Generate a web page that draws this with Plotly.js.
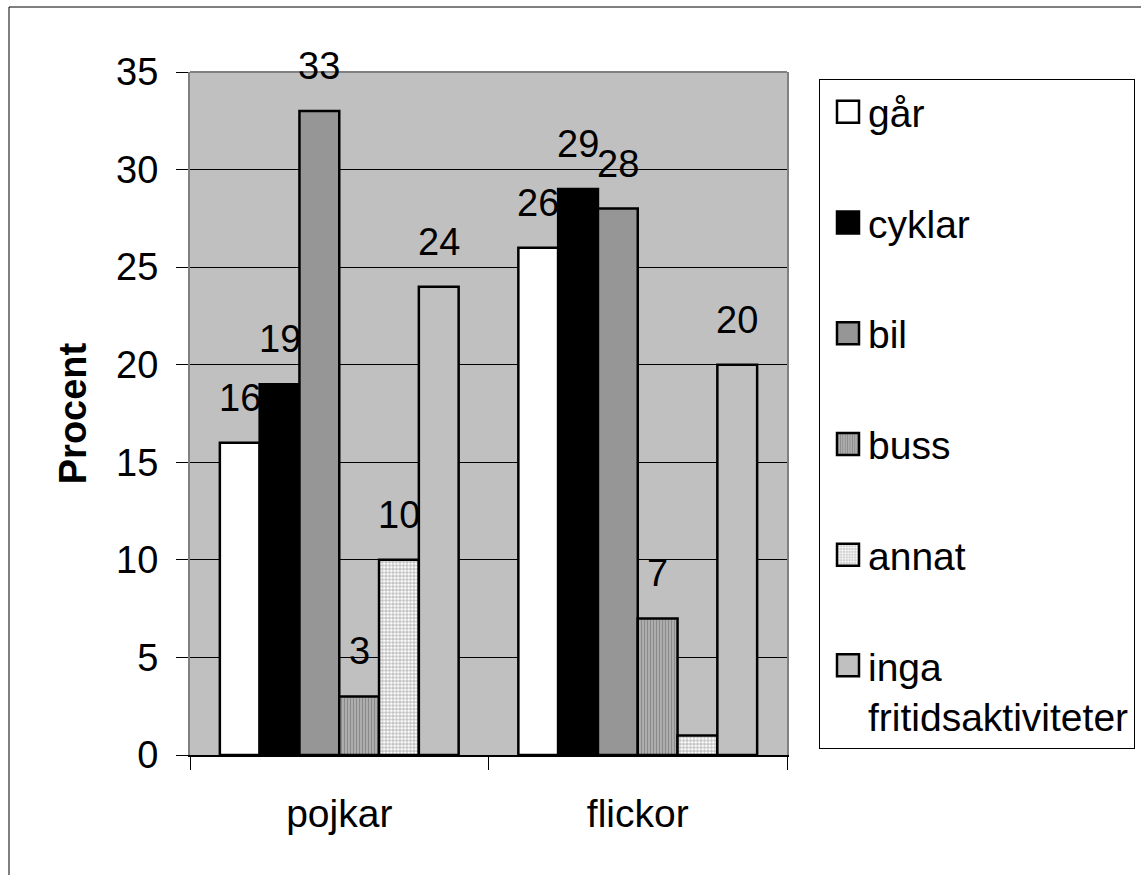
<!DOCTYPE html>
<html>
<head>
<meta charset="utf-8">
<script src="https://cdn.plot.ly/plotly-3.0.1.min.js"></script>
<style>
  html, body { margin: 0; padding: 0; background: #ffffff; }
  #chart { width: 1141px; height: 875px; }
</style>
</head>
<body>
<div id="chart"></div>
<script>
// Travel mode to leisure activities, by gender (percent)
const categories = ['pojkar', 'flickor'];
const seriesNames = ['går', 'cyklar', 'bil', 'buss', 'annat', 'inga<br>fritidsaktiviteter'];
const gar = [16, 26];
const cyklar = [19, 29];
const bil = [33, 28];
const buss = [3, 7];
const annat = [10, 1];
const inga = [24, 20];
const yTickValues = [0, 5, 10, 15, 20, 25, 30, 35];
// value labels that are not printed on the chart
const unlabelled = [['annat', 'flickor']];

const seriesValues = [gar, cyklar, bil, buss, annat, inga];

// figure geometry
const W = 1141, H = 875;
const M = { l: 190, r: 354, t: 72, b: 120, autoexpand: false };
const plotW = W - M.l - M.r;
const plotH = H - M.t - M.b;
const bargap = 0.2;
const FONT = 'Liberation Sans, Arial, sans-serif';
const FS = 38;      // tick and value labels
const FS_BIG = 39;  // category labels and legend

const styles = [
  { color: '#ffffff' },
  { color: '#000000' },
  { color: '#969696' },
  { color: '#a8a8a8', pattern: { shape: '|', bgcolor: '#b4b4b4', fgcolor: '#8a8a8a', size: 3, solidity: 0.45 } },
  { color: '#d8d8d8', pattern: { shape: '.', bgcolor: '#c2c2c2', fgcolor: '#ffffff', size: 3.5, solidity: 0.5 } },
  { color: '#c0c0c0' }
];

const traces = seriesNames.map((name, i) => {
  const s = styles[i];
  const marker = { color: s.color, line: { color: '#000000', width: 2.5 } };
  if (s.pattern) marker.pattern = Object.assign({ fillmode: 'replace' }, s.pattern);
  return {
    type: 'bar',
    name: name,
    x: categories,
    y: seriesValues[i],
    marker: marker,
    legendgroup: 'g' + i,
    hoverinfo: 'skip'
  };
});

// value labels above each bar
const nSeries = seriesNames.length;
const barW = plotW / categories.length * (1 - bargap) / nSeries;
const annotations = [];
seriesNames.forEach((name, i) => {
  const plain = name.split('<br>')[0];
  categories.forEach((cat, j) => {
    if (unlabelled.some(u => u[0] === plain && u[1] === cat)) return;
    const v = seriesValues[i][j];
    annotations.push({
      x: cat, y: v, xref: 'x', yref: 'y',
      text: String(v), showarrow: false,
      xshift: (i - (nSeries - 1) / 2) * barW,
      yshift: 45, yanchor: 'middle', xanchor: 'center',
      font: { family: FONT, size: FS, color: '#000000' }
    });
  });
});

const layout = {
  width: W, height: H,
  margin: M,
  paper_bgcolor: '#ffffff',
  plot_bgcolor: '#c0c0c0',
  font: { family: FONT, size: FS, color: '#000000' },
  barmode: 'group',
  bargap: bargap,
  bargroupgap: 0,
  xaxis: {
    type: 'category',
    showline: true, linecolor: '#000000', linewidth: 1.5,
    ticks: 'outside', tickson: 'boundaries', ticklen: 13, tickcolor: '#000000', tickwidth: 1,
    ticklabelstandoff: 24,
    tickfont: { family: FONT, size: FS_BIG, color: '#000000' },
    showgrid: false, zeroline: false, fixedrange: true
  },
  yaxis: {
    range: [0, 35],
    tickvals: yTickValues,
    ticks: 'outside', ticklen: 12, tickcolor: '#000000', tickwidth: 1,
    ticklabelstandoff: 10,
    tickfont: { family: FONT, size: FS, color: '#000000' },
    showline: true, linecolor: '#808080', linewidth: 2, mirror: true,
    showgrid: true, gridcolor: '#000000', gridwidth: 1,
    zeroline: false, fixedrange: true,
    title: { text: '<b>Procent</b>', font: { family: FONT, size: FS, color: '#000000' }, standoff: 18 }
  },
  legend: {
    x: (819 - M.l) / plotW, y: 1 - (79 - M.t) / plotH,
    xanchor: 'left', yanchor: 'top',
    bgcolor: '#ffffff', bordercolor: '#000000', borderwidth: 1,
    font: { family: FONT, size: FS_BIG, color: '#000000' },
    traceorder: 'grouped', tracegroupgap: 57,
    itemwidth: 38, valign: 'top'
  },
  annotations: annotations,
  shapes: [
    // top edge of the plotting area
    { type: 'line', xref: 'paper', yref: 'paper', x0: 0, x1: 1, y0: 1, y1: 1,
      line: { color: '#808080', width: 2 }, layer: 'above' },
    // outer frame around the figure
    { type: 'rect', xref: 'paper', yref: 'paper',
      x0: (9 - M.l) / plotW, x1: (W + 6 - M.l) / plotW,
      y0: -(H + 6 - M.t - plotH) / plotH, y1: 1 + (M.t - 7) / plotH,
      line: { color: '#000000', width: 1 }, fillcolor: 'rgba(0,0,0,0)', layer: 'below' }
  ],
  showlegend: true
};

// enlarge the legend swatches to match the label size
function enlargeSwatches() {
  document.querySelectorAll('#chart g.legend g.legendpoints path').forEach(p => {
    p.setAttribute('d', 'M15,11H-7V-11H15Z');
  });
}

const gd = document.getElementById('chart');
Plotly.newPlot(gd, traces, layout, { staticPlot: true, displayModeBar: false }).then(() => {
  enlargeSwatches();
  gd.on('plotly_afterplot', enlargeSwatches);
  setTimeout(enlargeSwatches, 50);
});
</script>
</body>
</html>
